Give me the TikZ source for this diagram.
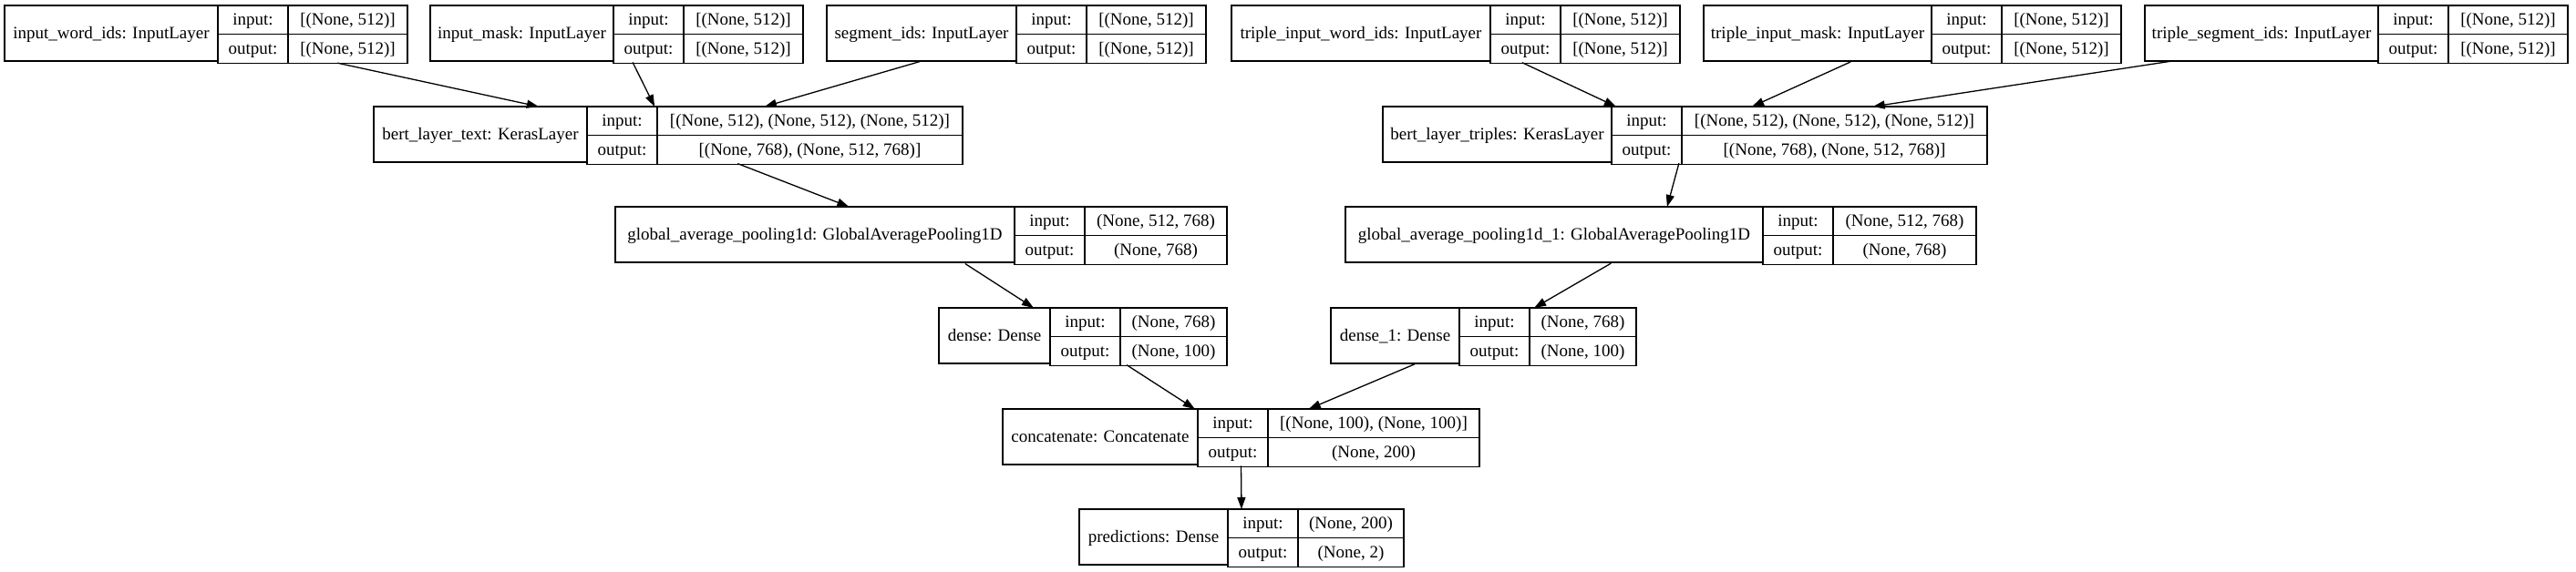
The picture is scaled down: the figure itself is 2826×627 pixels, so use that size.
\documentclass[tikz,border=0pt]{standalone}
\usepackage{fontspec}
\setmainfont{Liberation Serif}
\usetikzlibrary{shapes.multipart, arrows.meta, calc}
\newcommand{\kfont}{\fontsize{19}{22}\selectfont}
\newcommand{\kstrut}{\rule[-9.5pt]{0pt}{30.5pt}}
\newcommand{\io}[2]{\kstrut #1\nodepart{two}\kstrut #2}

\begin{document}
\begin{tikzpicture}[
        x=1pt, y=-1pt,
        lname/.style={rectangle, draw, line width=1.3pt, outer sep=0pt, inner sep=0pt, minimum height=61pt, anchor=north west, font=\kfont},
        lsplit/.style={rectangle split, rectangle split parts=2, draw, line width=1.3pt, outer sep=0pt, inner sep=0pt, anchor=north west, font=\kfont},
        flow/.style={-{Triangle[length=13pt, width=9pt]}, line width=1.3pt},
    ]
        \useasboundingbox[fill=white] (0,0) rectangle (2826,627);

        % input layers
        \node[lname, minimum width=234pt] (iwi) at (5,6) {\kstrut input\_word\_ids: InputLayer};
        \node[lsplit, minimum width=77pt] (iwi-p) at (iwi.north east) {\io{input:}{output:}};
        \node[lsplit, minimum width=131pt] (iwi-v) at (iwi-p.north east) {\io{[(None, 512)]}{[(None, 512)]}};

        \node[lname, minimum width=201pt] (imask) at (472,6) {\kstrut input\_mask: InputLayer};
        \node[lsplit, minimum width=77pt] (imask-p) at (imask.north east) {\io{input:}{output:}};
        \node[lsplit, minimum width=131pt] (imask-v) at (imask-p.north east) {\io{[(None, 512)]}{[(None, 512)]}};

        \node[lname, minimum width=208pt] (segid) at (907,6) {\kstrut segment\_ids: InputLayer};
        \node[lsplit, minimum width=77pt] (segid-p) at (segid.north east) {\io{input:}{output:}};
        \node[lsplit, minimum width=131pt] (segid-v) at (segid-p.north east) {\io{[(None, 512)]}{[(None, 512)]}};

        \node[lname, minimum width=284pt] (tiwi) at (1351,6) {\kstrut triple\_input\_word\_ids: InputLayer};
        \node[lsplit, minimum width=77pt] (tiwi-p) at (tiwi.north east) {\io{input:}{output:}};
        \node[lsplit, minimum width=131pt] (tiwi-v) at (tiwi-p.north east) {\io{[(None, 512)]}{[(None, 512)]}};

        \node[lname, minimum width=250pt] (timask) at (1869,6) {\kstrut triple\_input\_mask: InputLayer};
        \node[lsplit, minimum width=77pt] (timask-p) at (timask.north east) {\io{input:}{output:}};
        \node[lsplit, minimum width=131pt] (timask-v) at (timask-p.north east) {\io{[(None, 512)]}{[(None, 512)]}};

        \node[lname, minimum width=256pt] (tsegid) at (2353,6) {\kstrut triple\_segment\_ids: InputLayer};
        \node[lsplit, minimum width=77pt] (tsegid-p) at (tsegid.north east) {\io{input:}{output:}};
        \node[lsplit, minimum width=131pt] (tsegid-v) at (tsegid-p.north east) {\io{[(None, 512)]}{[(None, 512)]}};

        % bert layers
        \node[lname, minimum width=234pt] (berttext) at (410,117) {\kstrut bert\_layer\_text: KerasLayer};
        \node[lsplit, minimum width=77pt] (berttext-p) at (berttext.north east) {\io{input:}{output:}};
        \node[lsplit, minimum width=335pt] (berttext-v) at (berttext-p.north east) {\io{[(None, 512), (None, 512), (None, 512)]}{[(None, 768), (None, 512, 768)]}};

        \node[lname, minimum width=251pt] (berttrip) at (1517,117) {\kstrut bert\_layer\_triples: KerasLayer};
        \node[lsplit, minimum width=77pt] (berttrip-p) at (berttrip.north east) {\io{input:}{output:}};
        \node[lsplit, minimum width=335pt] (berttrip-v) at (berttrip-p.north east) {\io{[(None, 512), (None, 512), (None, 512)]}{[(None, 768), (None, 512, 768)]}};

        % pooling
        \node[lname, minimum width=438pt] (gap) at (675,227) {\kstrut global\_average\_pooling1d: GlobalAveragePooling1D};
        \node[lsplit, minimum width=77pt] (gap-p) at (gap.north east) {\io{input:}{output:}};
        \node[lsplit, minimum width=156pt] (gap-v) at (gap-p.north east) {\io{(None, 512, 768)}{(None, 768)}};

        \node[lname, minimum width=458pt] (gapone) at (1476,227) {\kstrut global\_average\_pooling1d\_1: GlobalAveragePooling1D};
        \node[lsplit, minimum width=77pt] (gapone-p) at (gapone.north east) {\io{input:}{output:}};
        \node[lsplit, minimum width=157pt] (gapone-v) at (gapone-p.north east) {\io{(None, 512, 768)}{(None, 768)}};

        % dense
        \node[lname, minimum width=122pt] (dense) at (1030,338) {\kstrut dense: Dense};
        \node[lsplit, minimum width=77pt] (dense-p) at (dense.north east) {\io{input:}{output:}};
        \node[lsplit, minimum width=117pt] (dense-v) at (dense-p.north east) {\io{(None, 768)}{(None, 100)}};

        \node[lname, minimum width=141pt] (denseone) at (1460,338) {\kstrut dense\_1: Dense};
        \node[lsplit, minimum width=77pt] (denseone-p) at (denseone.north east) {\io{input:}{output:}};
        \node[lsplit, minimum width=117pt] (denseone-v) at (denseone-p.north east) {\io{(None, 768)}{(None, 100)}};

        % head
        \node[lname, minimum width=214pt] (concat) at (1100,449) {\kstrut concatenate: Concatenate};
        \node[lsplit, minimum width=77pt] (concat-p) at (concat.north east) {\io{input:}{output:}};
        \node[lsplit, minimum width=232pt] (concat-v) at (concat-p.north east) {\io{[(None, 100), (None, 100)]}{(None, 200)}};

        \node[lname, minimum width=163pt] (pred) at (1184,559) {\kstrut predictions: Dense};
        \node[lsplit, minimum width=77pt] (pred-p) at (pred.north east) {\io{input:}{output:}};
        \node[lsplit, minimum width=116pt] (pred-v) at (pred-p.north east) {\io{(None, 200)}{(None, 2)}};

        % connections
        \draw[flow] ($(iwi.south west)!0.826!(iwi-v.south east)$) -- ($(berttext.north west)!0.280!(berttext-v.north east)$);
        \draw[flow] ($(imask.south west)!0.543!(imask-v.south east)$) -- ($(berttext.north west)!0.477!(berttext-v.north east)$);
        \draw[flow] ($(segid.south west)!0.245!(segid-v.south east)$) -- ($(berttext.north west)!0.664!(berttext-v.north east)$);
        \draw[flow] ($(tiwi.south west)!0.648!(tiwi-v.south east)$) -- ($(berttrip.north west)!0.386!(berttrip-v.north east)$);
        \draw[flow] ($(timask.south west)!0.352!(timask-v.south east)$) -- ($(berttrip.north west)!0.611!(berttrip-v.north east)$);
        \draw[flow] ($(tsegid.south west)!0.0625!(tsegid-v.south east)$) -- ($(berttrip.north west)!0.811!(berttrip-v.north east)$);
        \draw[flow] ($(berttext.south west)!0.618!(berttext-v.south east)$) -- ($(gap.north west)!0.382!(gap-v.north east)$);
        \draw[flow] ($(berttrip.south west)!0.490!(berttrip-v.south east)$) -- ($(gapone.north west)!0.510!(gapone-v.north east)$);
        \draw[flow] ($(gap.south west)!0.572!(gap-v.south east)$) -- ($(dense.north west)!0.329!(dense-v.north east)$);
        \draw[flow] ($(gapone.south west)!0.421!(gapone-v.south east)$) -- ($(denseone.north west)!0.666!(denseone-v.north east)$);
        \draw[flow] ($(dense.south west)!0.652!(dense-v.south east)$) -- ($(concat.north west)!0.403!(concat-v.north east)$);
        \draw[flow] ($(denseone.south west)!0.275!(denseone-v.south east)$) -- ($(concat.north west)!0.642!(concat-v.north east)$);
        \draw[flow] ($(concat.south west)!0.5!(concat-v.south east)$) -- ($(pred.north west)!0.5!(pred-v.north east)$);
    \end{tikzpicture}
\end{document}
